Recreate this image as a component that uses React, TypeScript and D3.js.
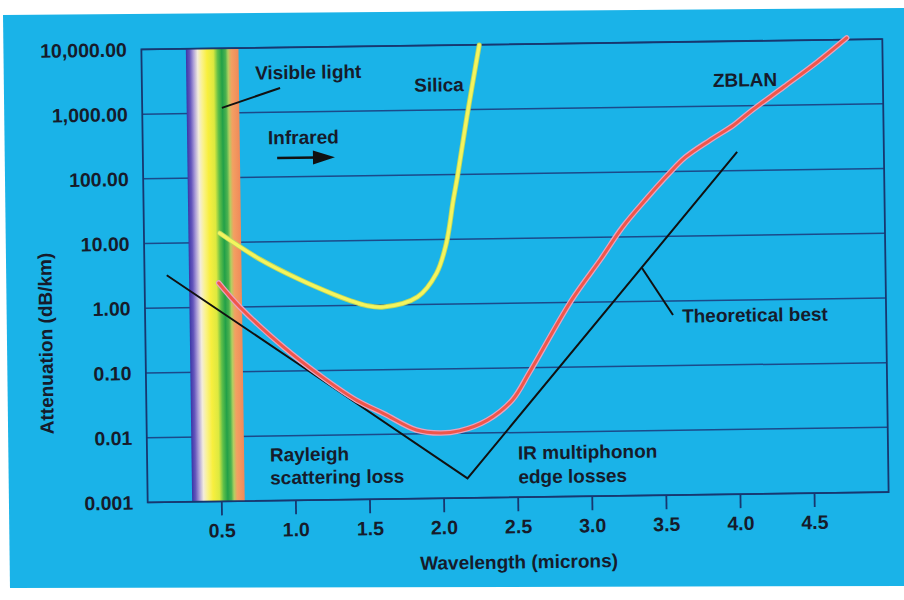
import React from 'react';
import * as d3 from 'd3';

const svgWidth = 904;
const svgHeight = 600;
const plot = { left: 144.5, right: 885.5, top: 44.25, bottom: 497.25 };
// the source is a slightly tilted scan
const tilt = -0.8;
const pivot = [515, 271];

const FONT = '"Liberation Sans", Arial, Helvetica, sans-serif';
const INK = '#161b2b';
const GRID = '#1b4a8a';
const FRAME = '#17376f';

// axes
const wavelengthDomain = [0, 5];
const lossDomain = [0.001, 10000];
const wavelengthTicks = [0.5, 1.0, 1.5, 2.0, 2.5, 3.0, 3.5, 4.0, 4.5];
const lossTicks = [0.001, 0.01, 0.1, 1, 10, 100, 1000, 10000];
const lossTickLabels = ['0.001', '0.01', '0.10', '1.00', '10.00', '100.00', '1,000.00', '10,000.00'];

// visible light band, microns
const visibleBand = [0.30, 0.655];

// silica fibre
const silicaWavelength = [0.51, 0.78, 1.05, 1.27, 1.38, 1.50, 1.61, 1.84, 1.97, 2.04, 2.09, 2.12, 2.19, 2.28];
const silicaLoss = [14.0, 5.4, 2.55, 1.51, 1.2, 0.98, 0.93, 1.31, 3.0, 8.8, 40, 91, 770, 9900];

// ZBLAN fibre
const zblanWavelength = [0.50, 0.64, 0.93, 1.19, 1.42, 1.60, 1.82, 1.98, 2.11, 2.30, 2.47, 2.59, 2.88, 3.08, 3.23, 3.40, 3.54, 3.66, 3.83, 3.99, 4.10, 4.33, 4.56, 4.76];
const zblanLoss = [2.37, 1.0, 0.236, 0.079, 0.034, 0.021, 0.0115, 0.0102, 0.0109, 0.0158, 0.032, 0.086, 1.09, 4.6, 14.2, 40, 89, 165, 301, 507, 800, 1910, 4580, 10600];

// theoretical best (Rayleigh + IR multiphonon edge)
const theoryWavelength = [0.15, 1.04, 2.16, 4.01];
const theoryLoss = [3.2, 0.123, 0.002, 194];

const annotations = [
    { text: 'Visible light', at: [0.765, 4090], anchor: 'start' },
    { text: 'Silica', at: [2.005, 2440], anchor: 'middle' },
    { text: 'Infrared', at: [0.846, 404], anchor: 'start' },
    { text: 'ZBLAN', at: [4.07, 2500], anchor: 'middle' },
    { text: 'Theoretical best', at: [3.623, 0.58], anchor: 'start' },
    { text: 'Rayleigh', at: [0.829, 0.0051], anchor: 'start' },
    { text: 'scattering loss', at: [0.829, 0.00225], anchor: 'start' },
    { text: 'IR multiphonon', at: [2.503, 0.00483], anchor: 'start' },
    { text: 'edge losses', at: [2.503, 0.00206], anchor: 'start' },
];
const leaders = [
    [[0.538, 1200], [0.932, 2370]],
    [[3.357, 3.27], [3.562, 0.605]],
];
const infraredArrow = [[0.906, 197], [1.296, 197]];

const bandStops = [
    [0, '#3a36a6'], [0.07, '#6456bc'], [0.14, '#ac9ed8'], [0.22, '#f3ecdc'],
    [0.30, '#faf28c'], [0.40, '#f8ef3e'], [0.52, '#dde93f'], [0.60, '#5fbf48'],
    [0.68, '#22a048'], [0.75, '#4cb250'], [0.80, '#b2d060'], [0.86, '#f3a062'], [1, '#f08a5a'],
];

const translate = (x, y) => 'translate(' + x + ',' + y + ')';

const x = d3.scaleLinear().domain(wavelengthDomain).range([plot.left, plot.right]);
const y = d3.scaleLog().domain(lossDomain).range([plot.bottom, plot.top]);

const line = d3.line()
    .x(d => x(d[0]))
    .y(d => y(d[1]))
    .curve(d3.curveCatmullRom.alpha(0.5));
const straight = d3.line().x(d => x(d[0])).y(d => y(d[1]));

const zip = (a, b) => a.map((v, i) => [v, b[i]]);

const App = () => {
    const silica = line(zip(silicaWavelength, silicaLoss));
    const zblan = line(zip(zblanWavelength, zblanLoss));
    const theory = straight(zip(theoryWavelength, theoryLoss));

    const ax0 = x(infraredArrow[0][0]), ax1 = x(infraredArrow[1][0]), ay = y(infraredArrow[0][1]);

    return (
        <svg width={svgWidth} height={svgHeight}
            style={{ position: 'absolute', left: 0, top: 0, background: '#fff' }}
            fontFamily={FONT}>
            <defs>
                <linearGradient id='band' x1='0' x2='1' y1='0' y2='0'>
                    {bandStops.map((s, i) => <stop key={i} offset={s[0]} stopColor={s[1]} />)}
                </linearGradient>
            </defs>
            <path d='M3,15 L904,8 L904,586 L10,588 Z' fill='#1ab3e8' />

            <g transform={'rotate(' + tilt + ',' + pivot[0] + ',' + pivot[1] + ')'}>
                {lossTicks.map(t =>
                    <line key={t} x1={plot.left} x2={plot.right} y1={y(t)} y2={y(t)}
                        stroke={GRID} strokeWidth={1.5} />
                )}
                <rect x={x(visibleBand[0])} y={plot.top}
                    width={x(visibleBand[1]) - x(visibleBand[0])} height={plot.bottom - plot.top}
                    fill='url(#band)' />
                <rect x={plot.left} y={plot.top} width={plot.right - plot.left} height={plot.bottom - plot.top}
                    fill='none' stroke={FRAME} strokeWidth={1.8} />

                {/* y axis */}
                {lossTicks.map((t, i) =>
                    <text key={t} x={plot.left - 14.5} y={y(t)} textAnchor='end' dominantBaseline='central'
                        fontSize={19.5} fontWeight='bold' fill={INK}>{lossTickLabels[i]}</text>
                )}
                <text transform={translate(45, 337) + ' rotate(-90)'} textAnchor='middle' dominantBaseline='central'
                    fontSize={19} fontWeight='bold' fill={INK}>Attenuation (dB/km)</text>

                {/* x axis */}
                {wavelengthTicks.map(t =>
                    <g key={t} transform={translate(x(t), plot.bottom)}>
                        <line y2={14} stroke={FRAME} strokeWidth={1.8} />
                        <text y={29} textAnchor='middle' dominantBaseline='central'
                            fontSize={19.5} fontWeight='bold' fill={INK}>{t.toFixed(1)}</text>
                    </g>
                )}
                <text x={(plot.left + plot.right) / 2} y={562} textAnchor='middle' dominantBaseline='central'
                    fontSize={19} fontWeight='bold' fill={INK}>Wavelength (microns)</text>

                {/* curves */}
                <path d={theory} fill='none' stroke='#111' strokeWidth={2} />
                <path d={zblan} fill='none' stroke='#e9a2c0' strokeWidth={5.5} strokeLinecap='round' />
                <path d={zblan} fill='none' stroke='#f0564a' strokeWidth={3} strokeLinecap='round' />
                <path d={silica} fill='none' stroke='#bcd85c' strokeWidth={5} strokeLinecap='round' />
                <path d={silica} fill='none' stroke='#f4f45e' strokeWidth={3.2} strokeLinecap='round' />

                {/* annotations */}
                {leaders.map((l, i) =>
                    <line key={i} x1={x(l[0][0])} y1={y(l[0][1])} x2={x(l[1][0])} y2={y(l[1][1])}
                        stroke='#111' strokeWidth={2} />
                )}
                <line x1={ax0} x2={ax1 - 18} y1={ay} y2={ay} stroke='#111' strokeWidth={2.5} />
                <path d={'M' + ax1 + ',' + ay + 'L' + (ax1 - 22) + ',' + (ay - 7) + 'L' + (ax1 - 22) + ',' + (ay + 7) + 'Z'}
                    fill='#111' />
                {annotations.map((a, i) =>
                    <text key={i} x={x(a.at[0])} y={y(a.at[1])} textAnchor={a.anchor} dominantBaseline='central'
                        fontSize={19} fontWeight='bold' fill={INK}>{a.text}</text>
                )}
            </g>
        </svg>
    );
};

export default App;
